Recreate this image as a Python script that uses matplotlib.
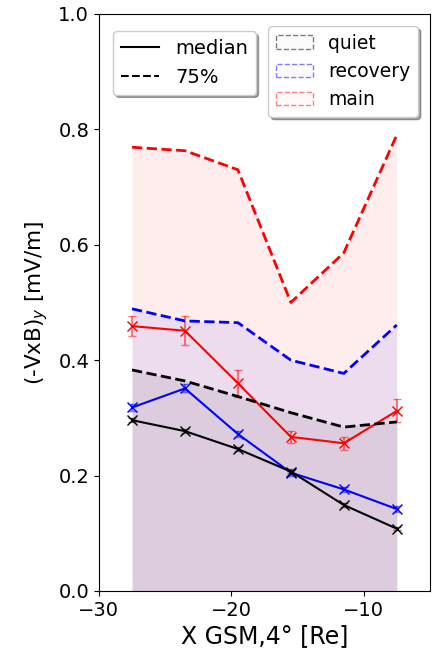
import matplotlib
matplotlib.use("Agg")
import matplotlib.pyplot as plt
from matplotlib.lines import Line2D
from matplotlib.patches import Patch
import numpy as np

x = [-27.5, -23.5, -19.5, -15.5, -11.5, -7.5]

quiet_med = [0.296, 0.277, 0.246, 0.207, 0.149, 0.108]
quiet_err = [0.003, 0.003, 0.003, 0.003, 0.003, 0.003]
quiet_q75 = [0.383, 0.364, 0.337, 0.309, 0.284, 0.293]

rec_med = [0.318, 0.351, 0.272, 0.205, 0.176, 0.142]
rec_err = [0.006, 0.007, 0.006, 0.006, 0.005, 0.005]
rec_q75 = [0.489, 0.468, 0.465, 0.400, 0.377, 0.461]

main_med = [0.459, 0.451, 0.360, 0.267, 0.256, 0.312]
main_err = [0.017, 0.025, 0.023, 0.011, 0.011, 0.020]
main_q75 = [0.769, 0.763, 0.730, 0.500, 0.586, 0.790]

fig = plt.figure(figsize=(4.32, 6.53), dpi=100)
ax = fig.add_axes([0.229, 0.095, 0.766, 0.8836])

series = [
    ("main", main_med, main_err, main_q75, "red"),
    ("recovery", rec_med, rec_err, rec_q75, "blue"),
    ("quiet", quiet_med, quiet_err, quiet_q75, "black"),
]
for name, med, err, q75, c in series:
    ax.fill_between(x, 0, q75, color=c, alpha=0.07, linewidth=0)
for name, med, err, q75, c in series:
    ax.plot(x, q75, color=c, linestyle="--", linewidth=2)
    ax.plot(x, med, color=c, marker="x", markersize=7, linewidth=1.5)
    ax.errorbar(x, med, yerr=err, fmt="none", ecolor=c, alpha=0.5,
                capsize=3, elinewidth=1.5)

ax.set_xlim(-30, -5)
ax.set_ylim(0, 1.0)
ax.set_xticks([-30, -20, -10])
ax.set_yticks([0.0, 0.2, 0.4, 0.6, 0.8, 1.0])
ax.tick_params(labelsize=14)
ax.set_xlabel("X GSM,4° [Re]", fontsize=17, labelpad=3)
ax.set_ylabel("(-VxB)$_y$ [mV/m]", fontsize=15.5, labelpad=6)

h1 = [Line2D([], [], color="black", linestyle="-", linewidth=1.5),
      Line2D([], [], color="black", linestyle="--", linewidth=1.5)]
leg1 = ax.legend(h1, ["median", "75%"], loc="upper left", fontsize=14,
                 shadow=True, borderaxespad=0, bbox_to_anchor=(0.042, 0.970))
ax.add_artist(leg1)
h2 = [Patch(facecolor=(0, 0, 0, 0.02), edgecolor=(0, 0, 0, 0.5), linestyle="--"),
      Patch(facecolor=(0, 0, 1, 0.02), edgecolor=(0, 0, 1, 0.5), linestyle="--"),
      Patch(facecolor=(1, 0, 0, 0.02), edgecolor=(1, 0, 0, 0.5), linestyle="--")]
ax.legend(h2, ["quiet", "recovery", "main"], loc="upper right", fontsize=13.5,
          shadow=True, borderaxespad=0, bbox_to_anchor=(0.964, 0.979))

fig.savefig("out.png", dpi=100)
